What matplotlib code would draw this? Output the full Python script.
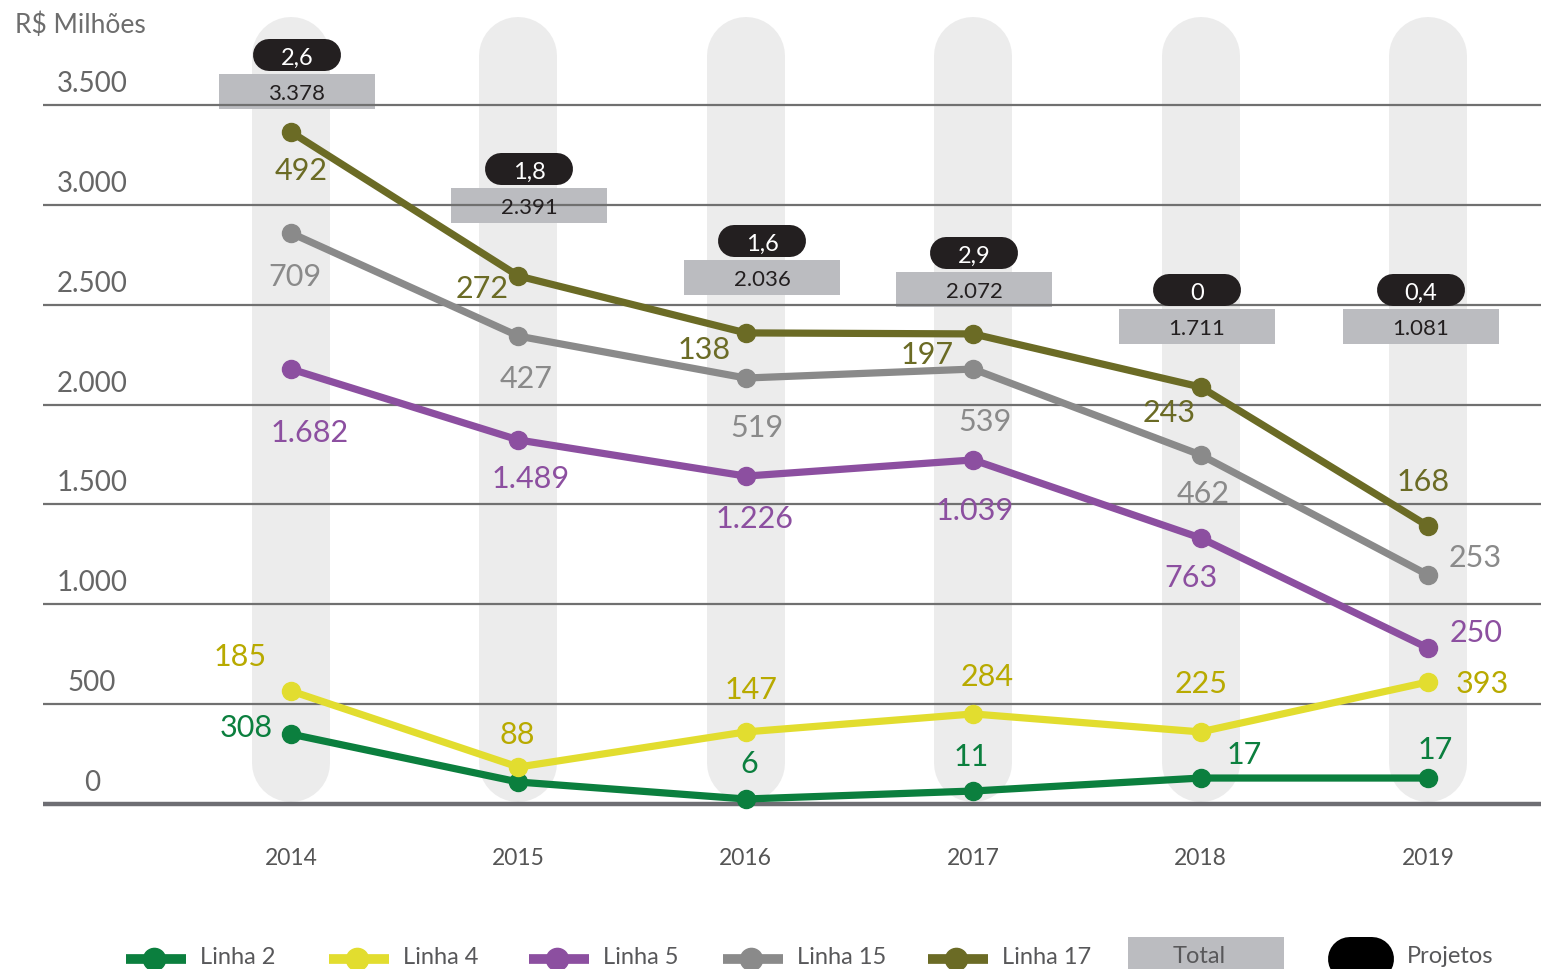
import matplotlib
matplotlib.use("Agg")
import matplotlib.pyplot as plt
from matplotlib.patches import Rectangle

plt.rcParams['font.family'] = ['Lato', 'DejaVu Sans']

anos = ["2014", "2015", "2016", "2017", "2018", "2019"]

# nivel acumulado de cada linha como aparece no grafico (R$ milhoes)
linha2_nivel = [350, 110, 25, 65, 130, 130]
linha4_nivel = [566, 185, 361, 451, 361, 611]
linha5_nivel = [2178, 1823, 1642, 1723, 1332, 781]
linha15_nivel = [2859, 2343, 2133, 2178, 1748, 1147]
linha17_nivel = [3365, 2644, 2359, 2354, 2088, 1392]

# rotulos de valor de cada linha
linha2_rot = ["308", "", "6", "11", "17", "17"]
linha4_rot = ["185", "88", "147", "284", "225", "393"]
linha5_rot = ["1.682", "1.489", "1.226", "1.039", "763", "250"]
linha15_rot = ["709", "427", "519", "539", "462", "253"]
linha17_rot = ["492", "272", "138", "197", "243", "168"]

total_rot = ["3.378", "2.391", "2.036", "2.072", "1.711", "1.081"]
projetos_rot = ["2,6", "1,8", "1,6", "2,9", "0", "0,4"]

eixo_y = [0, 500, 1000, 1500, 2000, 2500, 3000, 3500]
eixo_y_rot = ["0", "500", "1.000", "1.500", "2.000", "2.500", "3.000", "3.500"]

# cores
verde = '#0b7f3e'
amarelo = '#e2dd2f'
roxo = '#8c4fa0'
cinza = '#8a8a8a'
oliva = '#6b6b25'

# layout (pixels)
rot_off = {
    'l17': [(10, 38), (-36, 12), (-42, 16), (-46, 20), (-31, 25), (-5, -45)],
    'l15': [(4, 43), (8, 42), (11, 49), (12, 52), (3, 38), (47, -18)],
    'l5': [(19, 63), (12, 38), (9, 42), (1, 50), (-10, 39), (48, -16)],
    'l4': [(-51, -35), (-1, -33), (5, -43), (14, -38), (1, -49), (54, 1)],
    'l2': [(-45, -7), (0, 0), (3, -36), (-2, -35), (44, -24), (7, -29)],
}
caixa_px = [(297, 92), (529, 206), (762, 278), (974, 290), (1197, 327), (1421, 327)]

W, H = 1541, 970
fig = plt.figure(figsize=(W / 100, H / 100), dpi=100)
ax = fig.add_axes([43 / W, 0, 1498 / W, 1])

x0px, dxpx = 291, 227.4
y0px, kpx = 805, 0.1997
xmin = -(x0px - 43) / dxpx
xmax = 5 + (W - (x0px + 5 * dxpx)) / dxpx
ax.set_xlim(xmin, xmax)
ax.set_ylim(-(H - y0px) / kpx, y0px / kpx)
ax.axis('off')


def dx(px):
    return (px - x0px) / dxpx


def dy(py):
    return (y0px - py) / kpx


xs = list(range(len(anos)))

# faixas verticais cinza claro
for x in xs:
    ax.plot([x, x], [dy(18 + 39), dy(803 - 39)], color='#ececec',
            lw=78 * 0.72, solid_capstyle='round', zorder=1)

# caixas do total
for i, (cx, cy) in enumerate(caixa_px):
    ax.add_patch(Rectangle((dx(cx - 78), dy(cy + 17.5)), 156 / dxpx, 35 / kpx,
                           facecolor='#bbbcc0', edgecolor='none', zorder=2))
    ax.text(dx(cx), dy(cy + 2), total_rot[i], ha='center', va='center',
            fontsize=16, color='#231f20', zorder=6)

# grade
ax.hlines(eixo_y[1:], xmin, xmax, colors='#707070', lw=1.6, zorder=3)
ax.hlines([0], xmin, xmax, colors='#6e6e73', lw=3.2, zorder=3)
for v, t in zip(eixo_y, eixo_y_rot):
    ax.text(dx(92), v + 22 / kpx, t, ha='center', va='center',
            fontsize=20, color='#666666')

ax.text(dx(15), dy(25), "R$ Milhões", ha='left', va='center',
        fontsize=19, color='#6d6d6d')

# pilulas dos projetos
for i, (cx, cy) in enumerate(caixa_px):
    py = cy - 36
    ax.plot([dx(cx - 28), dx(cx + 28)], [dy(py), dy(py)], color='#231f20',
            lw=32 * 0.72, solid_capstyle='round', zorder=5)
    ax.text(dx(cx), dy(py + 2), projetos_rot[i], ha='center', va='center',
            fontsize=17, color='white', zorder=6)

series = [
    ('l2', linha2_nivel, linha2_rot, verde, verde),
    ('l4', linha4_nivel, linha4_rot, amarelo, '#b8aa00'),
    ('l5', linha5_nivel, linha5_rot, roxo, roxo),
    ('l15', linha15_nivel, linha15_rot, cinza, cinza),
    ('l17', linha17_nivel, linha17_rot, oliva, oliva),
]
for chave, nivel, rot, cor, cor_txt in series:
    ax.plot(xs, nivel, color=cor, lw=5.2, marker='o', markersize=13,
            zorder=4, solid_capstyle='round')
    for i, t in enumerate(rot):
        if not t:
            continue
        ox, oy = rot_off[chave][i]
        ax.annotate(t, (xs[i], nivel[i]), xytext=(ox, -oy),
                    textcoords='offset pixels', ha='center', va='center',
                    fontsize=22, color=cor_txt, zorder=7)

# anos
for x, a in zip(xs, anos):
    ax.text(x, dy(859), a, ha='center', va='center', fontsize=16.5,
            color='#555555')

# legenda
leg_y = 960
nomes = ["Linha 2", "Linha 4", "Linha 5", "Linha 15", "Linha 17"]
cores = [verde, amarelo, roxo, cinza, oliva]
leg_x = [126, 329, 529, 723, 928]
for nm, c, lx in zip(nomes, cores, leg_x):
    ax.plot([dx(lx), dx(lx + 60)], [dy(leg_y), dy(leg_y)], color=c, lw=7,
            solid_capstyle='butt', clip_on=False)
    ax.plot([dx(lx + 28)], [dy(leg_y)], 'o', color=c, markersize=16,
            clip_on=False)
    ax.text(dx(lx + 74), dy(leg_y - 2), nm, ha='left', va='center',
            fontsize=17, color='#58585a')

ax.add_patch(Rectangle((dx(1128), dy(H + 5)), 156 / dxpx, (H + 5 - 938) / kpx,
                       facecolor='#bbbcc0', edgecolor='none', clip_on=False))
ax.text(dx(1199), dy(leg_y - 3), "Total", ha='center', va='center',
        fontsize=17, color='#58585a')
ax.plot([dx(1350), dx(1372)], [dy(leg_y), dy(leg_y)], color='black',
        lw=44 * 0.72, solid_capstyle='round', clip_on=False)
ax.text(dx(1407), dy(leg_y - 3), "Projetos", ha='left', va='center',
        fontsize=17, color='#58585a')

fig.savefig("out.png", dpi=100)
